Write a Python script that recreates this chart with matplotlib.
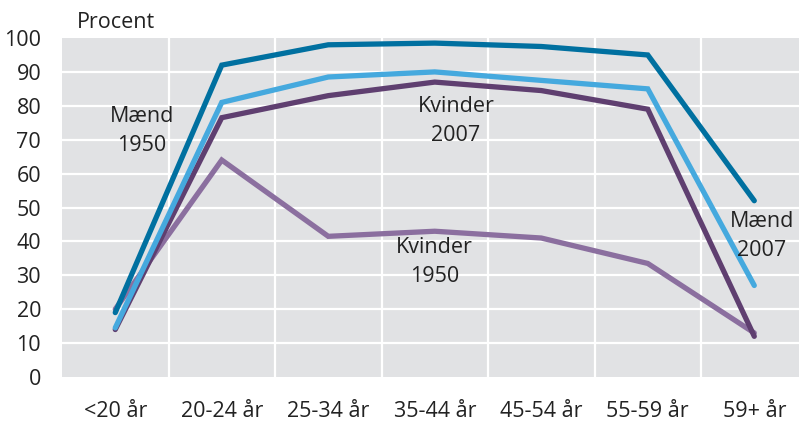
import matplotlib
matplotlib.use("Agg")
import matplotlib.pyplot as plt

plt.rcParams['font.family'] = ['Open Sans', 'DejaVu Sans']

# data
categories = ['<20 år', '20-24 år', '25-34 år', '35-44 år', '45-54 år', '55-59 år', '59+ år']
maend_1950 = [19, 92, 98, 98.5, 97.5, 95, 52]
maend_2007 = [14.5, 81, 88.5, 90, 87.5, 85, 27]
kvinder_2007 = [14, 76.5, 83, 87, 84.5, 79, 12]
kvinder_1950 = [20, 64, 41.5, 43, 41, 33.5, 13]

series = [
    (kvinder_1950, '#8b6f9f'),
    (kvinder_2007, '#5f3f70'),
    (maend_2007, '#45a9de'),
    (maend_1950, '#0070a0'),
]

fig = plt.figure(figsize=(7.99, 4.21), dpi=100)
ax = fig.add_axes([0.0776, 0.1045, 0.9224, 0.8052])
ax.set_facecolor('#e1e2e4')

x = list(range(len(categories)))
for vals, col in series:
    ax.plot(x, vals, color=col, linewidth=3.8, solid_capstyle='round', solid_joinstyle='miter', zorder=3)

# grid
for v in range(10, 100, 10):
    ax.axhline(v, color='white', linewidth=1.6, zorder=1)
for gx in [0.5, 1.5, 2.5, 3.5, 4.5, 5.5]:
    ax.axvline(gx, color='white', linewidth=1.6, zorder=1)

ax.set_xlim(-0.5, 6.42)
ax.set_ylim(0, 100)
ax.set_yticks(range(0, 101, 10))
ax.set_xticks(x)
ax.set_xticklabels(categories)
ax.tick_params(length=0, labelsize=15.5, colors='#222222')
ax.tick_params(axis='x', pad=17)
ax.tick_params(axis='y', pad=15)
for s in ax.spines.values():
    s.set_visible(False)

txt = dict(fontsize=15.5, color='#222222', ha='center', va='center', linespacing=1.5, zorder=4)
ax.text(0.25, 72.5, 'Mænd\n1950', **txt)
ax.text(3.2, 75.5, 'Kvinder\n2007', **txt)
ax.text(3.0, 34, 'Kvinder\n1950', **txt)
ax.text(6.07, 41.5, 'Mænd\n2007', **txt)

fig.text(0.096, 0.946, 'Procent', fontsize=15.5, color='#222222', ha='left', va='center')

fig.savefig('out.png', dpi=100)
